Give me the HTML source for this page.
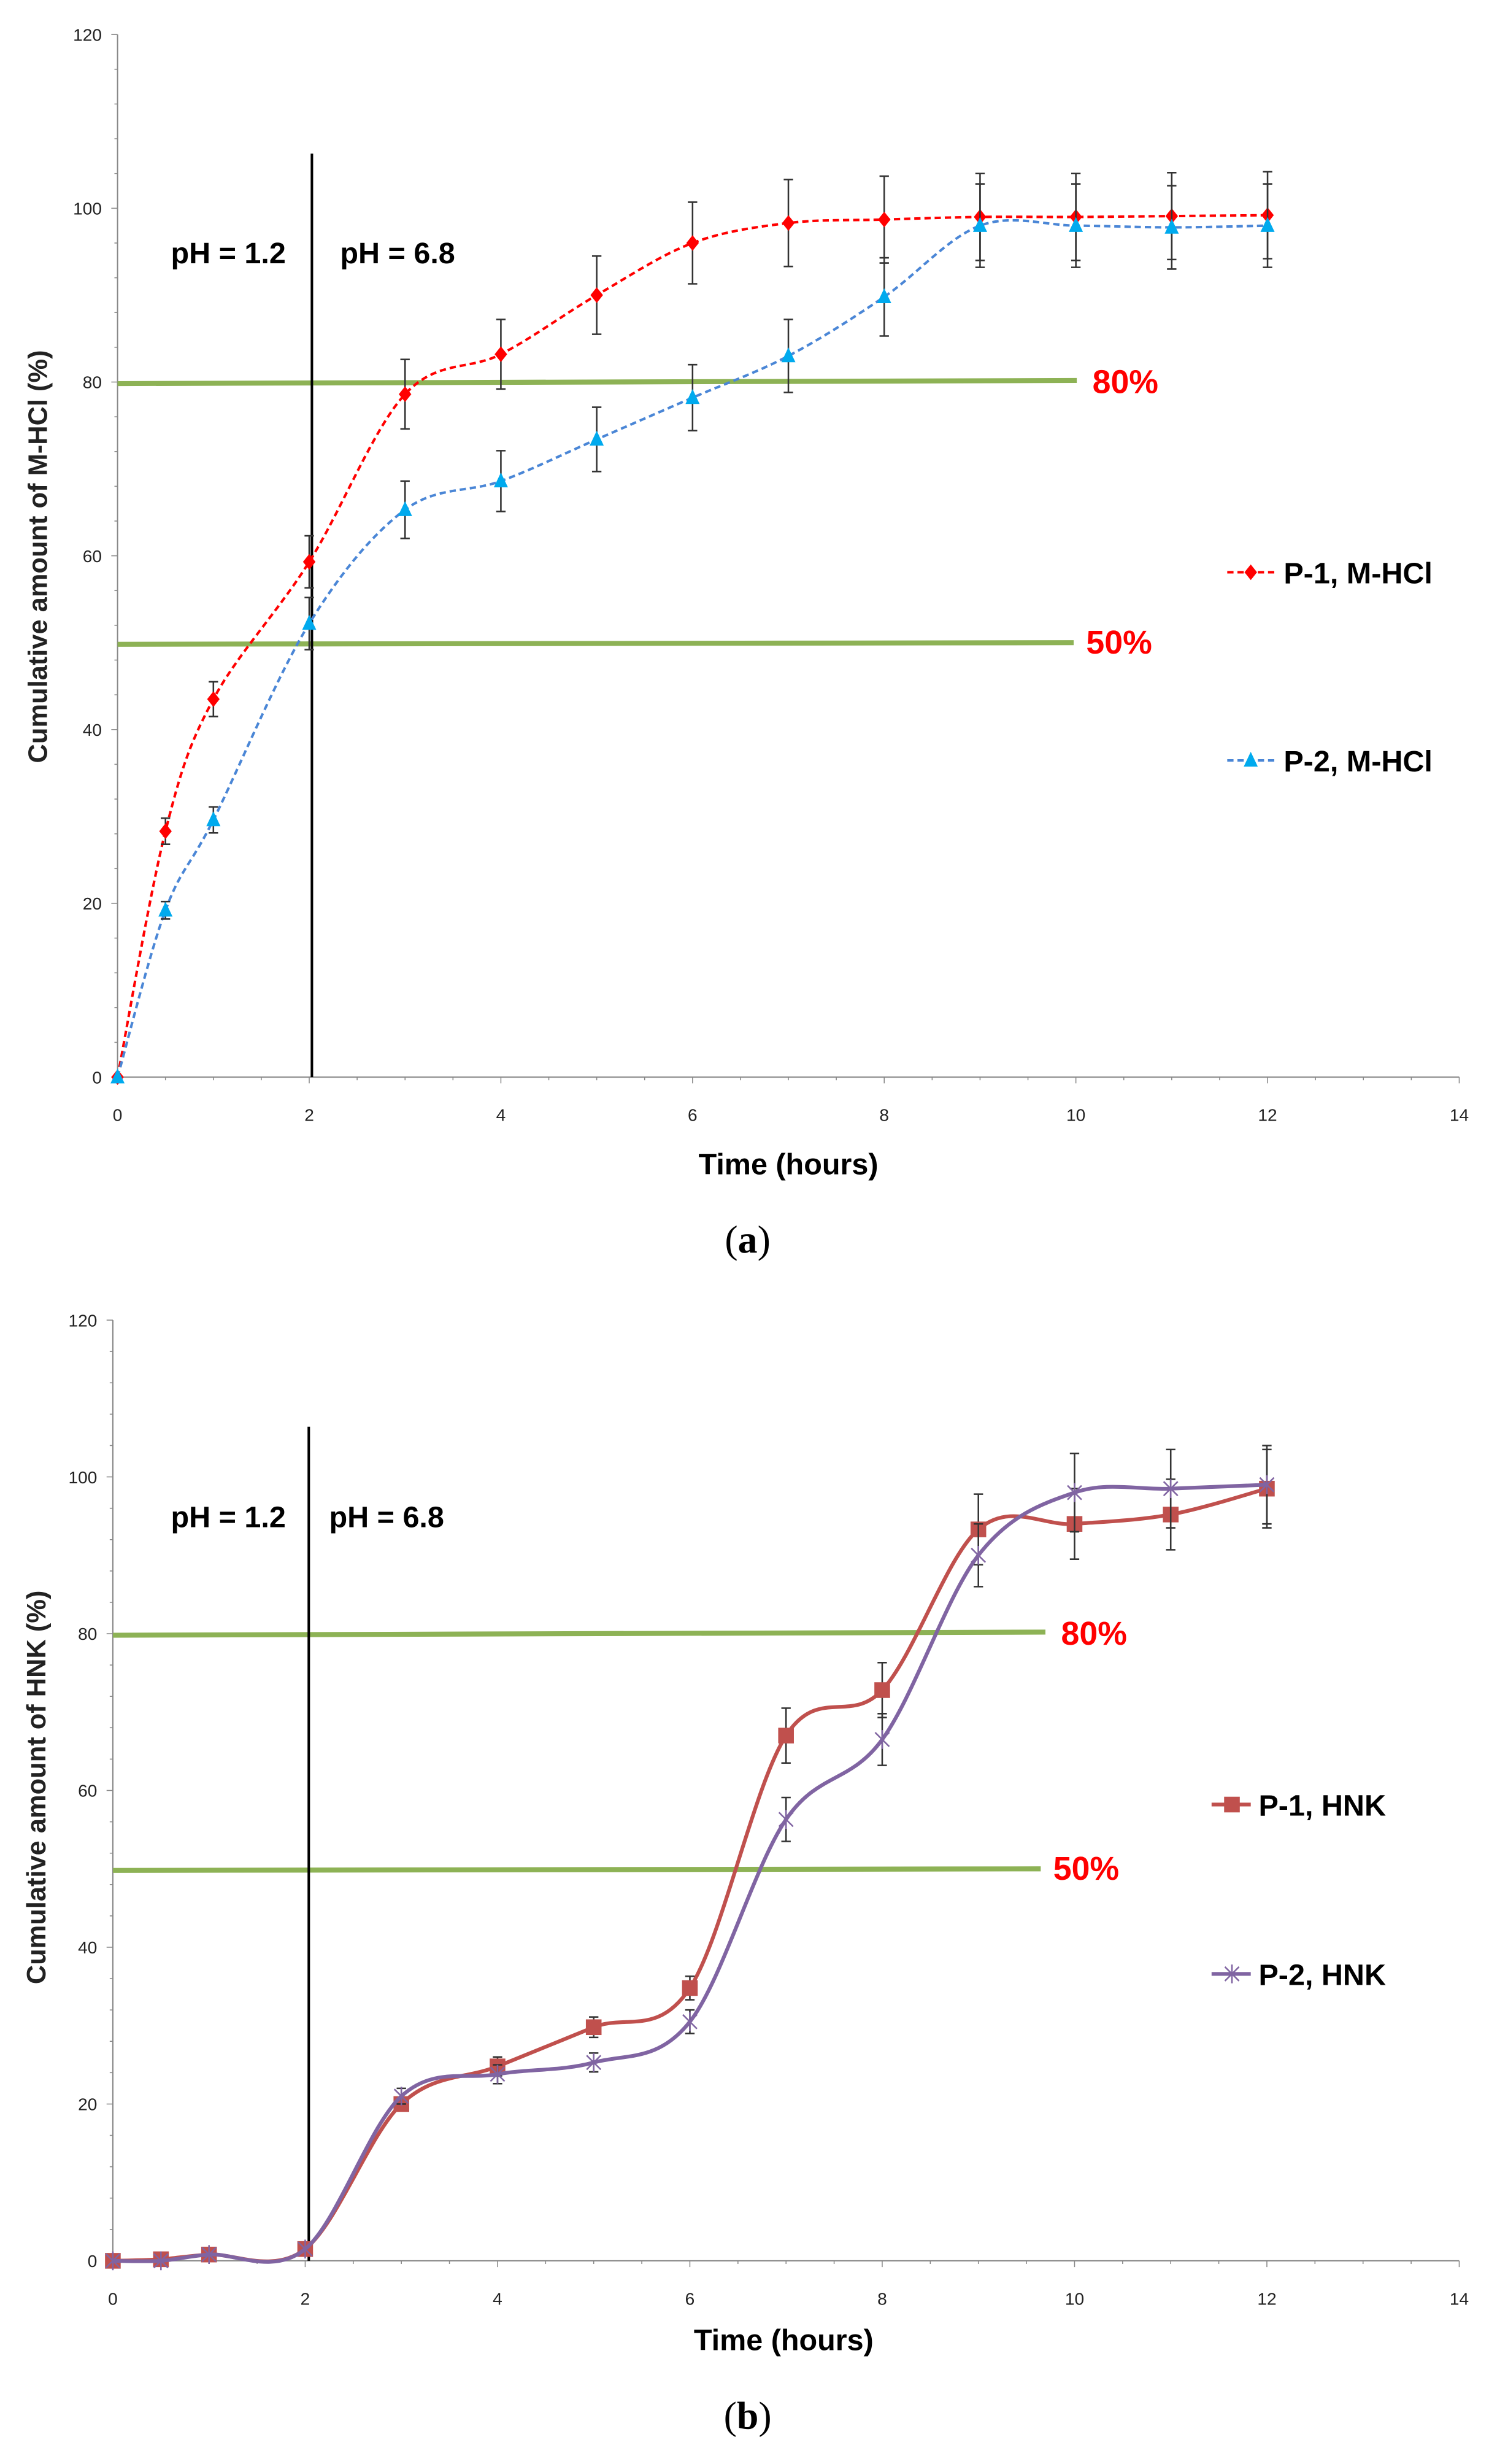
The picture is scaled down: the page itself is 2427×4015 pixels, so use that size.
<!DOCTYPE html>
<html><head><meta charset="utf-8"><style>
html,body{margin:0;padding:0;background:#fff;}
svg{display:block;}
.t{font-family:"Liberation Sans Narrow","Liberation Sans",sans-serif;}
</style></head><body>
<svg id="s" width="2427" height="4015" viewBox="0 0 950 1571.6" preserveAspectRatio="none" xmlns="http://www.w3.org/2000/svg">
<rect width="950" height="1571.6" fill="#fff"/>
<g id="g"></g>
</svg>
<script>
var NS="http://www.w3.org/2000/svg",G=document.getElementById('g'),out='';
function cr(pts){var d='M'+pts[0][0].toFixed(2)+','+pts[0][1].toFixed(2);for(var i=0;i<pts.length-1;i++){var p0=pts[i-1]||pts[i],p1=pts[i],p2=pts[i+1],p3=pts[i+2]||p2;var t=1/6;d+=' C'+(p1[0]+(p2[0]-p0[0])*t).toFixed(2)+','+(p1[1]+(p2[1]-p0[1])*t).toFixed(2)+' '+(p2[0]-(p3[0]-p1[0])*t).toFixed(2)+','+(p2[1]-(p3[1]-p1[1])*t).toFixed(2)+' '+p2[0].toFixed(2)+','+p2[1].toFixed(2);}return d;}
function chart(o){
 var X=function(h){return o.x0+h*(o.x14-o.x0)/14},Y=function(v){return o.y0-v*(o.y0-o.y120)/120};
 // axes
 out+='<line x1="'+o.x0+'" y1="'+o.y120+'" x2="'+o.x0+'" y2="'+o.y0+'" stroke="#888" stroke-width="0.8"/>';
 out+='<line x1="'+o.x0+'" y1="'+o.y0+'" x2="'+o.x14+'" y2="'+o.y0+'" stroke="#888" stroke-width="0.8"/>';
 for(var v=0;v<=120;v+=4){var y=Y(v);out+='<line x1="'+(o.x0-(v%20?2:4))+'" y1="'+y+'" x2="'+o.x0+'" y2="'+y+'" stroke="#888" stroke-width="0.6"/>';}
 for(var v=0;v<=120;v+=20){out+='<text class="t" x="'+(o.x0-10)+'" y="'+(Y(v)+4)+'" font-size="11" text-anchor="end" fill="#222">'+v+'</text>';}
 for(var h=0;h<=14;h+=0.5){var x=X(h);out+='<line x1="'+x+'" y1="'+o.y0+'" x2="'+x+'" y2="'+(o.y0+(h%2?2:4))+'" stroke="#888" stroke-width="0.6"/>';}
 for(var h=0;h<=14;h+=2){out+='<text class="t" x="'+X(h)+'" y="'+(o.y0+28)+'" font-size="11" text-anchor="middle" fill="#222">'+h+'</text>';}
 // green lines
 out+='<line x1="'+o.x0+'" y1="'+(Y(80)+1)+'" x2="'+o.g80+'" y2="'+(Y(80)-1)+'" stroke="#8db255" stroke-width="3.2"/>';
 out+='<line x1="'+o.x0+'" y1="'+(Y(50)+1)+'" x2="'+o.g50+'" y2="'+(Y(50))+'" stroke="#8db255" stroke-width="3.2"/>';
 out+='<text class="t" x="'+(o.g80+10)+'" y="'+(Y(80)+7)+'" font-size="21" font-weight="bold" fill="#ff0000">80%</text>';
 out+='<text class="t" x="'+(o.g50+8)+'" y="'+(Y(50)+7)+'" font-size="21" font-weight="bold" fill="#ff0000">50%</text>';
 // vertical line
 out+='<line x1="'+o.vx+'" y1="'+o.vtop+'" x2="'+o.vx+'" y2="'+o.y0+'" stroke="#000" stroke-width="1.6"/>';
 out+='<text class="t" x="109" y="'+o.phy+'" font-size="19" font-weight="bold" fill="#000">pH = 1.2</text>';
 out+='<text class="t" x="'+o.ph2+'" y="'+o.phy+'" font-size="19" font-weight="bold" fill="#000">pH = 6.8</text>';
 // series
 o.series.forEach(function(s){
  var pts=s.d.map(function(p){return [X(p[0]),Y(p[1])]});
  out+='<path d="'+cr(pts)+'" fill="none" stroke="'+s.c+'" stroke-width="'+s.w+'"'+(s.dash?' stroke-dasharray="4,2.5"':'')+'/>';
  s.d.forEach(function(p){if(p[2]){var x=X(p[0]),a=Y(p[1]+p[2]),b=Y(p[1]-p[2]);out+='<path d="M'+x+','+a+'V'+b+'M'+(x-3)+','+a+'H'+(x+3)+'M'+(x-3)+','+b+'H'+(x+3)+'" stroke="#333" stroke-width="1" fill="none"/>';}});
  s.d.forEach(function(p){out+=mk(s.m,X(p[0]),Y(p[1]),s.mc);});
  // legend
  var lx=o.lx,ly=s.ly;
  out+='<line x1="'+lx+'" y1="'+ly+'" x2="'+(lx+(s.dash?30:25))+'" y2="'+ly+'" stroke="'+s.c+'" stroke-width="'+s.w+'"'+(s.dash?' stroke-dasharray="4,2.5"':'')+'/>';
  out+=mk(s.m,lx+(s.dash?15:13),ly,s.mc);
  out+='<text class="t" x="'+(lx+(s.dash?36:30))+'" y="'+(ly+7)+'" font-size="19" font-weight="bold" fill="#000">'+s.n+'</text>';
 });
 out+='<text class="t" transform="translate('+o.ylx+','+o.yly+') rotate(-90)" font-family="Liberation Sans,sans-serif" font-size="17" font-weight="bold" text-anchor="middle" fill="#222">'+o.yl+'</text>';
 out+='<text class="t" x="'+o.xlx+'" y="'+o.xly+'" font-size="19" font-weight="bold" text-anchor="middle" fill="#000">Time (hours)</text>';
 out+='<text x="477" y="'+o.cap+'" font-family="Liberation Serif,serif" font-size="25" text-anchor="middle" fill="#000">(<tspan font-weight="bold">'+o.cl+'</tspan>)</text>';
}
function mk(m,x,y,c){
 if(m=='d')return '<path d="M'+x+','+(y-5)+'L'+(x+4)+','+y+'L'+x+','+(y+5)+'L'+(x-4)+','+y+'Z" fill="'+c+'"/>';
 if(m=='t')return '<path d="M'+x+','+(y-5.5)+'L'+(x+4.5)+','+(y+4)+'L'+(x-4.5)+','+(y+4)+'Z" fill="'+c+'"/>';
 if(m=='s')return '<rect x="'+(x-5)+'" y="'+(y-5)+'" width="10" height="10" fill="'+c+'"/>';
 if(m=='x')return '<path d="M'+(x-4.5)+','+(y-4.5)+'L'+(x+4.5)+','+(y+4.5)+'M'+(x+4.5)+','+(y-4.5)+'L'+(x-4.5)+','+(y+4.5)+'M'+x+','+(y-6)+'V'+(y+6)+'" stroke="'+c+'" stroke-width="1"/>';
}
chart({x0:75,x14:931,y0:687,y120:22,g80:687,g50:685,vx:199,vtop:98,phy:168,ph2:217,lx:783,ylx:30,yly:355,xlx:503,xly:749,cap:799,cl:'a',
 yl:'Cumulative amount of M-HCl (%)',
 series:[
 {n:'P-1, M-HCl',c:'#ff0000',mc:'#ff0000',m:'d',w:1.6,dash:1,ly:365,d:[[0,0,0],[0.5,28.3,1.5],[1,43.5,2],[2,59.3,3],[3,78.6,4],[4,83.2,4],[5,90,4.5],[6,96,4.7],[7,98.3,5],[8,98.7,5],[9,99,5],[10,99,5],[11,99.1,5],[12,99.2,5]]},
 {n:'P-2, M-HCl',c:'#4a86d6',mc:'#00aaee',m:'t',w:1.6,dash:1,ly:485,d:[[0,0,0],[0.5,19.2,1],[1,29.6,1.5],[2,52.2,3],[3,65.3,3.3],[4,68.6,3.5],[5,73.4,3.7],[6,78.2,3.8],[7,83,4.2],[8,89.8,4.5],[9,98,4.8],[10,98,4.8],[11,97.8,4.8],[12,98,4.8]]}
 ]});
chart({x0:72,x14:931,y0:1442,y120:842,g80:667,g50:664,vx:197,vtop:910,phy:974,ph2:210,lx:773,ylx:29,yly:1140,xlx:500,xly:1499,cap:1549,cl:'b',
 yl:'Cumulative amount of  HNK (%)',
 series:[
 {n:'P-1, HNK',c:'#c0504d',mc:'#c0504d',m:'s',w:2.4,dash:0,ly:1151,d:[[0,0,0],[0.5,0.2,0],[1,0.8,0],[2,1.5,0],[3,20,0],[4,24.8,1.2],[5,29.8,1.3],[6,34.8,1.5],[7,67,3.5],[8,72.8,3.5],[9,93.3,4.5],[10,94,4.5],[11,95.2,4.5],[12,98.5,5]]},
 {n:'P-2, HNK',c:'#8064a2',mc:'#8064a2',m:'x',w:2.4,dash:0,ly:1259,d:[[0,0,0],[0.5,0,0],[1,0.8,0],[2,1.5,0],[3,21,1],[4,23.8,1.2],[5,25.3,1.2],[6,30.5,1.5],[7,56.3,2.8],[8,66.5,3.3],[9,90,4],[10,98,5],[11,98.5,5],[12,99,5]]}
 ]});
G.innerHTML=out;
</script>
</body></html>
